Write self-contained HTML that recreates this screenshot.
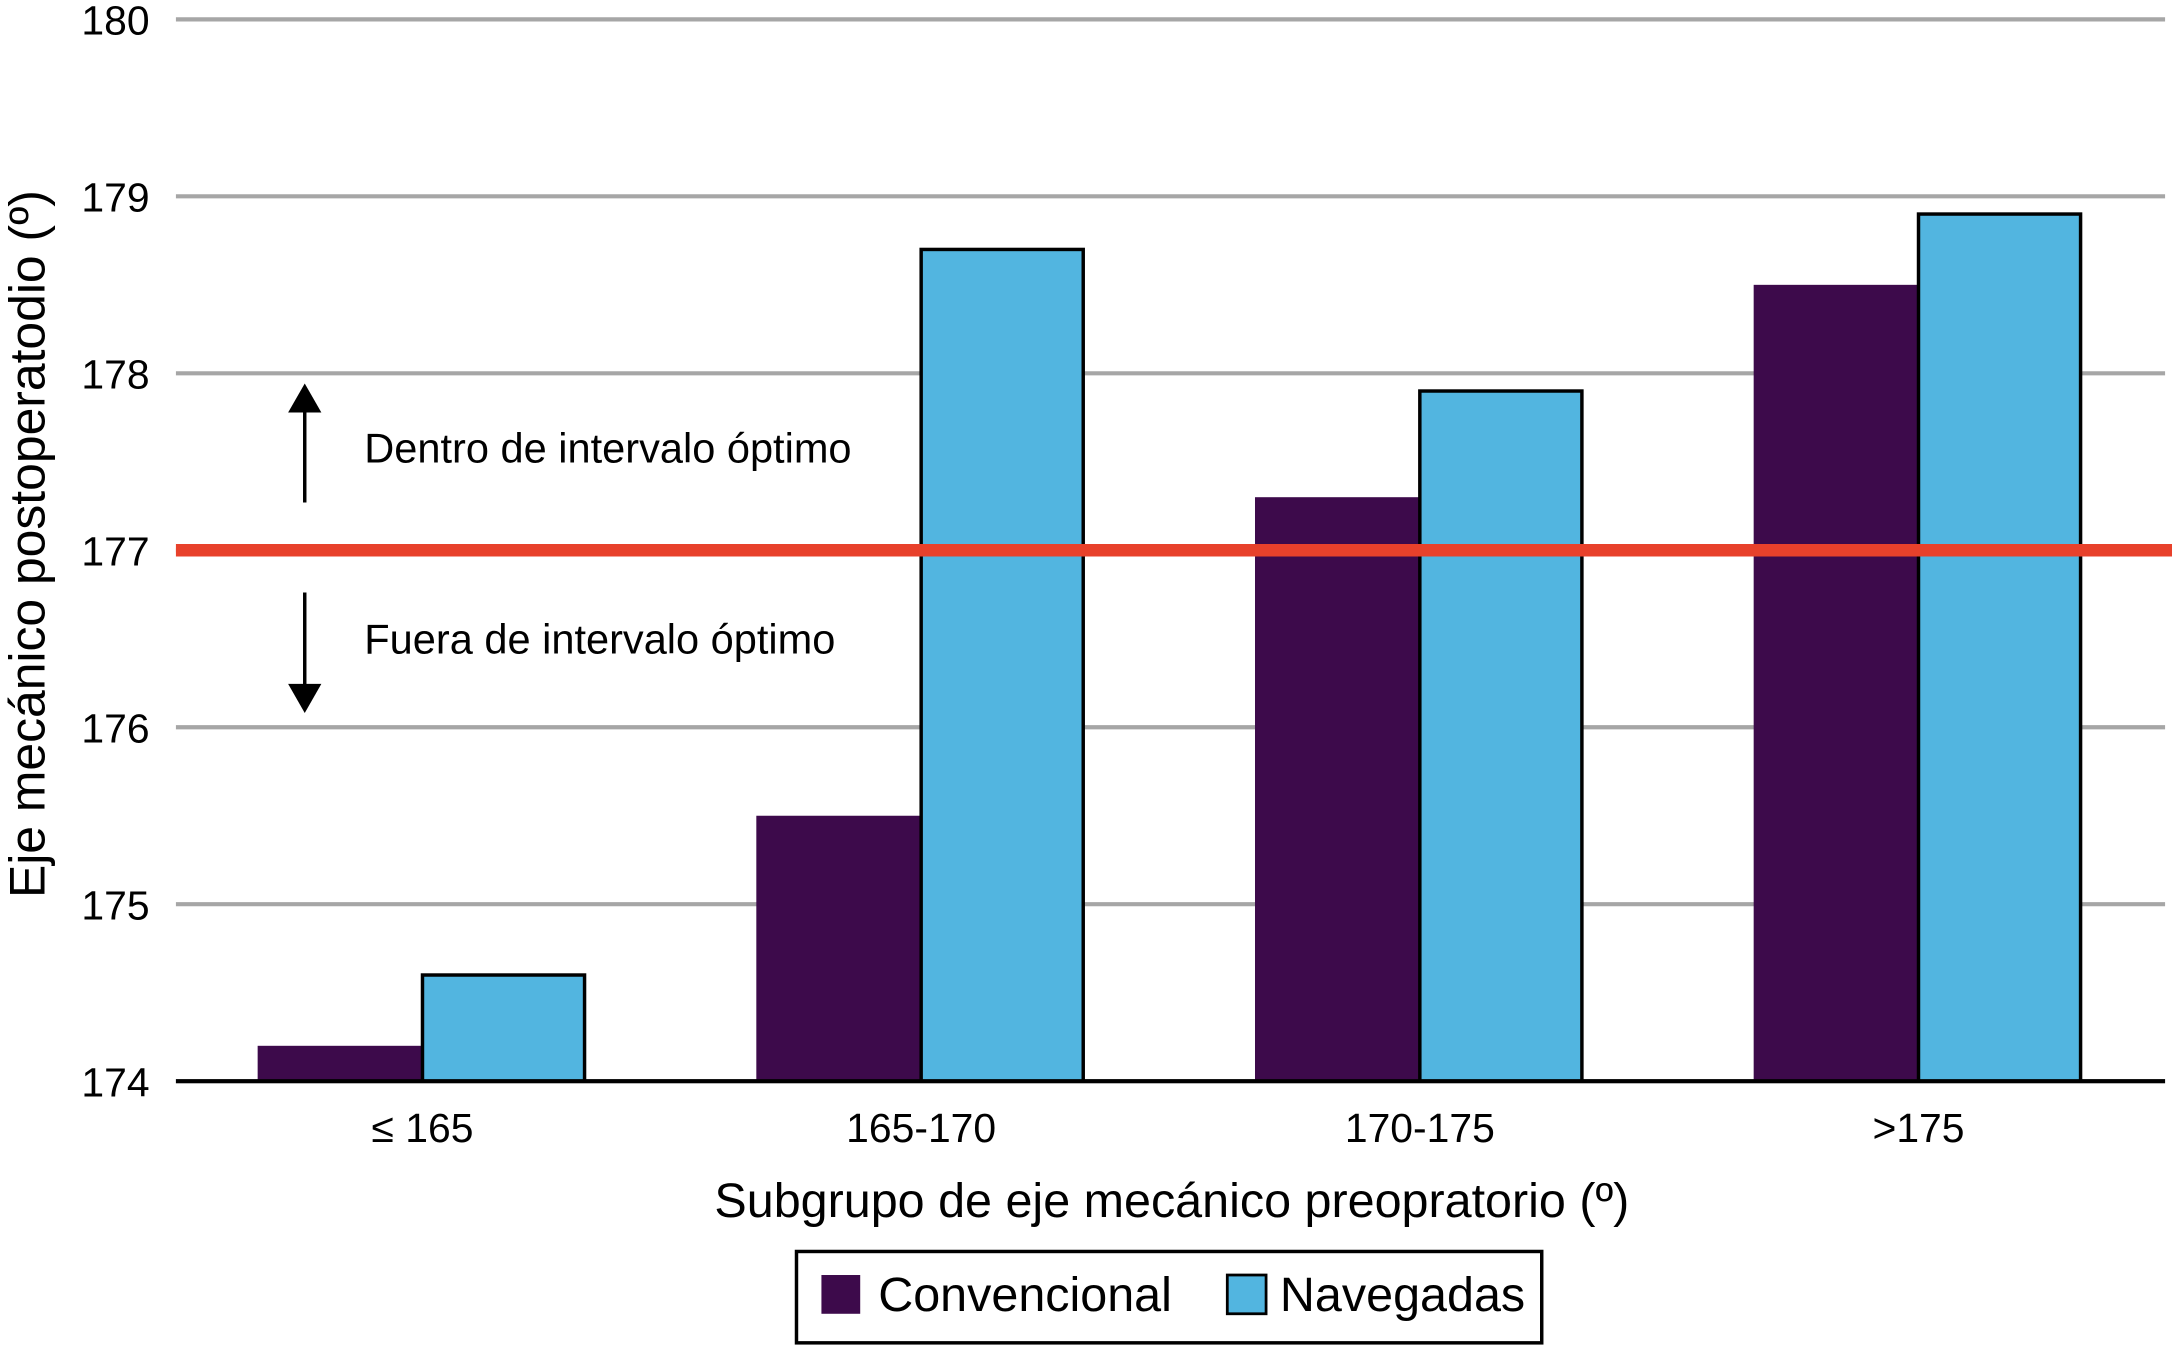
<!DOCTYPE html>
<html><head><meta charset="utf-8">
<style>
html,body{margin:0;padding:0;background:#fff;}
svg{display:block;font-family:"Liberation Sans",sans-serif;}
</style></head>
<body>
<svg id="chart" width="2172" height="1347" viewBox="0 0 1568 973" preserveAspectRatio="none" xmlns="http://www.w3.org/2000/svg">
<g id="grid"></g>
<g id="bars"></g>
<line id="redline" x1="127" x2="1568" stroke="#e8412b" stroke-width="9"/>
<line x1="127" x2="1563" y1="781" y2="781" stroke="#000" stroke-width="3"/>
<g id="ticks"></g>
<g>
<line x1="220" y1="363" x2="220" y2="290" stroke="#000" stroke-width="2.5"/>
<polygon points="208,298 232,298 220,277" fill="#000"/>
<text x="263" y="334" font-size="30">Dentro de intervalo óptimo</text>
</g>
<g>
<line x1="220" y1="428" x2="220" y2="500" stroke="#000" stroke-width="2.5"/>
<polygon points="208,494 232,494 220,515" fill="#000"/>
<text x="263" y="472" font-size="30">Fuera de intervalo óptimo</text>
</g>
<text transform="translate(32,393) rotate(-90)" text-anchor="middle" font-size="36">Eje mecánico postoperatodio (º)</text>
<text x="846" y="879" text-anchor="middle" font-size="35">Subgrupo de eje mecánico preopratorio (º)</text>
<g>
<rect x="575" y="904" width="538" height="66" fill="#fff" stroke="#000" stroke-width="2.5"/>
<rect x="593" y="921" width="28" height="28" fill="#3d0a4b"/>
<text x="634" y="947" font-size="35">Convencional</text>
<rect x="886" y="921" width="28" height="28" fill="#52b5e0" stroke="#000" stroke-width="2"/>
<text x="924" y="947" font-size="35">Navegadas</text>
</g>
</svg>
<script>
const categories = ["≤ 165", "165-170", "170-175", ">175"];
const convencional = [174.2, 175.5, 177.3, 178.5];
const navegadas = [174.6, 178.7, 177.9, 178.9];
const yTicks = [174, 175, 176, 177, 178, 179, 180];
const threshold = 177;

const NS = "http://www.w3.org/2000/svg";
const yMin = 174, yMax = 180, yTop = 14, yBot = 781;
function y(v){ return yBot - (v - yMin) / (yMax - yMin) * (yBot - yTop); }
const xL = 127;
const step = 360, x0 = 305;
function xc(i){ return x0 + i * step; }
const bw = 119;
function mk(tag, attrs, parent){
  const e = document.createElementNS(NS, tag);
  for (const k in attrs) e.setAttribute(k, attrs[k]);
  parent.appendChild(e); return e;
}
const grid = document.getElementById('grid'), ticks = document.getElementById('ticks'), bars = document.getElementById('bars');
yTicks.forEach(t => {
  const l = mk('line', {x1: xL, x2: 1563, y1: y(t), y2: y(t), stroke: '#a6a6a6', 'stroke-width': 3}, grid);
  
  
  const tx = mk('text', {x: 108, y: y(t) + 11, 'text-anchor': 'end', 'font-size': 29.5}, ticks);
  tx.textContent = t;
  
  
});
categories.forEach((c, i) => {
  const r1 = mk('rect', {x: xc(i) - bw, y: y(convencional[i]), width: bw, height: yBot - y(convencional[i]), fill: '#3d0a4b'}, bars);
  
  
  const r2 = mk('rect', {x: xc(i), y: y(navegadas[i]), width: bw - 2, height: yBot - y(navegadas[i]), fill: '#52b5e0', stroke: '#000', 'stroke-width': 2.5}, bars);
  
  
  const tx = mk('text', {x: xc(i), y: 825, 'text-anchor': 'middle', 'font-size': 29.5}, ticks);
  tx.textContent = c;
  
  
});
const rl = document.getElementById('redline');
rl.setAttribute('y1', y(threshold)); rl.setAttribute('y2', y(threshold));
</script>
</body></html>
